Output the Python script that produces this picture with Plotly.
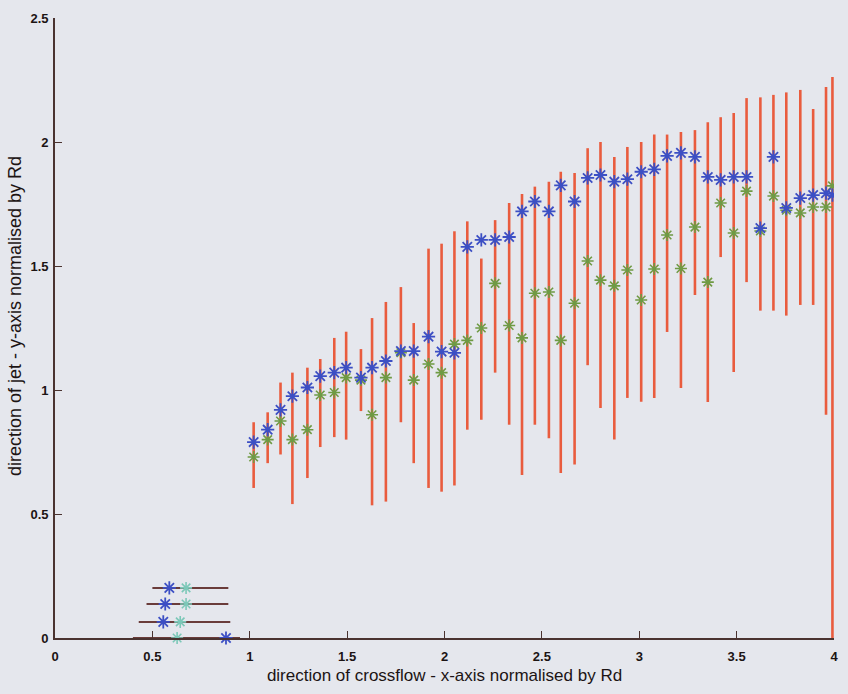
import plotly.graph_objects as go

# column positions (normalised crossflow direction)
x_pos = [1.020, 1.092, 1.158, 1.219, 1.296, 1.362, 1.434, 1.495, 1.571, 1.628,
         1.699, 1.776, 1.842, 1.918, 1.985, 2.051, 2.117, 2.189, 2.260, 2.332,
         2.398, 2.464, 2.536, 2.597, 2.668, 2.735, 2.801, 2.872, 2.939, 3.010,
         3.077, 3.143, 3.214, 3.286, 3.352, 3.418, 3.485, 3.551, 3.622, 3.689,
         3.755, 3.827, 3.893, 3.959, 3.992]

# red range lines (top and bottom of each vertical band)
range_top = [0.87, 0.91, 1.03, 1.07, 1.09, 1.125, 1.21, 1.235, 1.165, 1.29,
             1.355, 1.415, 1.27, 1.57, 1.59, 1.64, 1.68, 1.53, 1.685, 1.754,
             1.79, 1.82, 1.84, 1.88, 1.875, 1.975, 2.0, 1.94, 1.98, 2.0,
             2.03, 2.03, 2.04, 2.048, 2.08, 2.10, 2.117, 2.177, 2.18, 2.19,
             2.20, 2.21, 2.133, 2.222, 2.262]
range_bottom = [0.605, 0.705, 0.74, 0.54, 0.645, 0.77, 0.81, 0.80, 0.915, 0.535,
                0.55, 0.87, 0.705, 0.605, 0.59, 0.615, 0.84, 0.88, 1.07, 0.86,
                0.657, 0.86, 0.805, 0.665, 0.70, 1.10, 0.927, 0.80, 0.968, 0.953,
                0.968, 1.234, 1.008, 1.383, 0.952, 1.536, 1.073, 1.435, 1.32, 1.32,
                1.30, 1.343, 1.343, 0.90, 0.0]

# blue and green star series
blue_y = [0.79, 0.84, 0.92, 0.975, 1.01, 1.056, 1.07, 1.09, 1.05, 1.09,
          1.117, 1.157, 1.157, 1.215, 1.155, 1.15, 1.577, 1.605, 1.605, 1.617,
          1.72, 1.76, 1.72, 1.825, 1.76, 1.855, 1.867, 1.84, 1.85, 1.88,
          1.89, 1.944, 1.956, 1.94, 1.859, 1.847, 1.859, 1.859, 1.653, 1.94,
          1.734, 1.774, 1.786, 1.794, 1.786]
green_y = [0.73, 0.80, 0.875, 0.80, 0.84, 0.98, 0.99, 1.05, 1.04, 0.90,
           1.05, 1.15, 1.04, 1.105, 1.07, 1.185, 1.20, 1.25, 1.43, 1.26,
           1.21, 1.39, 1.395, 1.20, 1.35, 1.52, 1.443, 1.42, 1.484, 1.363,
           1.488, 1.625, 1.49, 1.657, 1.435, 1.754, 1.633, 1.802, 1.641, 1.782,
           1.725, 1.714, 1.738, 1.738, 1.823]

# small key-like rows at bottom left
key_y = [0.202, 0.137, 0.065, 0.0]
key_x_start = [0.50, 0.47, 0.43, 0.40]
key_x_end = [0.89, 0.89, 0.90, 0.95]
key_blue_x = [0.587, 0.566, 0.556, 0.878]
key_cyan_x = [0.673, 0.673, 0.643, 0.627]

AX = "#4a3330"
RED = "#e95c3e"
BLUE = "#3c4fc4"
GREEN = "#6f9a44"
CYAN = "#7cc8b8"
BG = "#e5e7ed"
TXT = "#1c1414"
FONT = "Liberation Sans, Arial, sans-serif"

fig = go.Figure()

# red vertical range lines
lx, ly = [], []
for x, b, t in zip(x_pos, range_bottom, range_top):
    lx += [x, x, None]
    ly += [b, t, None]
fig.add_trace(go.Scatter(x=lx, y=ly, mode="lines",
                         line=dict(color=RED, width=2.6), showlegend=False,
                         hoverinfo="skip"))

fig.add_trace(go.Scatter(x=x_pos, y=green_y, mode="markers",
                         marker=dict(symbol="asterisk-open", size=10, color=GREEN,
                                     line=dict(color=GREEN, width=1.6)),
                         showlegend=False))
fig.add_trace(go.Scatter(x=x_pos, y=blue_y, mode="markers",
                         marker=dict(symbol="asterisk-open", size=11, color=BLUE,
                                     line=dict(color=BLUE, width=1.8)),
                         showlegend=False))

# key rows
kx, ky = [], []
for xs, xe, y in zip(key_x_start, key_x_end, key_y):
    kx += [xs, xe, None]
    ky += [y, y, None]
fig.add_trace(go.Scatter(x=kx, y=ky, mode="lines",
                         line=dict(color="#6a3c3a", width=2), showlegend=False,
                         cliponaxis=False))
fig.add_trace(go.Scatter(x=key_cyan_x, y=key_y, mode="markers", cliponaxis=False,
                         marker=dict(symbol="asterisk-open", size=10, color=CYAN,
                                     line=dict(color=CYAN, width=1.6)),
                         showlegend=False))
fig.add_trace(go.Scatter(x=key_blue_x, y=key_y, mode="markers", cliponaxis=False,
                         marker=dict(symbol="asterisk-open", size=11, color=BLUE,
                                     line=dict(color=BLUE, width=1.8)),
                         showlegend=False))

tickfont = dict(family=FONT, size=13, color=TXT, weight="bold")
fig.update_layout(
    width=848, height=694,
    margin=dict(l=55, r=10, t=18, b=56),
    paper_bgcolor=BG, plot_bgcolor=BG,
    xaxis=dict(range=[0, 4], tickvals=[0, 0.5, 1, 1.5, 2, 2.5, 3, 3.5, 4],
               ticktext=["0", "0.5", "1", "1.5", "2", "2.5", "3", "3.5", "4"],
               ticks="inside", ticklen=7, tickcolor=AX, tickwidth=1.3,
               showline=True, linecolor=AX, linewidth=1.6, showgrid=False,
               zeroline=False, tickfont=tickfont, ticklabelstandoff=6,
               title=dict(text="direction of crossflow - x-axis normalised by Rd",
                          font=dict(family=FONT, size=17, color=TXT),
                          standoff=6)),
    yaxis=dict(range=[0, 2.5], tickvals=[0, 0.5, 1, 1.5, 2, 2.5],
               ticktext=["0", "0.5", "1", "1.5", "2", "2.5"],
               ticks="inside", ticklen=7, tickcolor=AX, tickwidth=1.3,
               showline=True, linecolor=AX, linewidth=1.6, showgrid=False,
               zeroline=False, tickfont=tickfont, ticklabelstandoff=2),
    annotations=[dict(text="direction of jet - y-axis normalised by Rd",
                      xref="paper", yref="paper", x=-0.052, y=0.52,
                      xanchor="center", yanchor="middle", textangle=-90,
                      showarrow=False,
                      font=dict(family=FONT, size=18, color=TXT))],
)

fig.write_html("out.html")
